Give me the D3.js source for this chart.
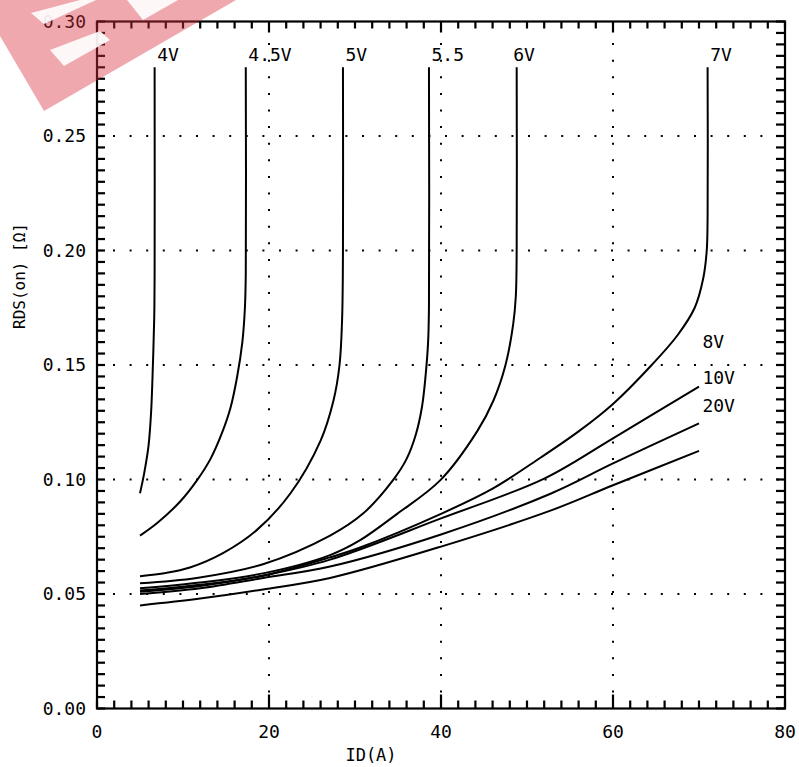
<!DOCTYPE html>
<html>
<head>
<meta charset="utf-8">
<script src="https://cdn.jsdelivr.net/npm/d3@7"></script>
<style>
  body { margin: 0; background: #fff; }
  svg { display: block; }
  text { font-family: "DejaVu Sans Mono", "Liberation Mono", monospace; fill: #000; }
</style>
</head>
<body>
<script>
// ---- data (ID in A, RDS(on) in ohm) ----
const curve4V  = [[5,0.094],[5.5,0.103],[6.0,0.115],[6.3,0.13],[6.5,0.15],[6.65,0.17],[6.7,0.19],[6.7,0.28]];
const curve45V = [[5,0.0755],[7,0.081],[9.7,0.0905],[11.6,0.0995],[13.2,0.109],[14.5,0.12],[15.5,0.131],[16.3,0.145],[16.9,0.16],[17.2,0.175],[17.3,0.19],[17.3,0.28]];
const curve5V  = [[5,0.0578],[8,0.0592],[10.8,0.0616],[14.7,0.068],[18.6,0.078],[22.5,0.094],[26,0.117],[27.5,0.1345],[28.2,0.15],[28.5,0.17],[28.6,0.2],[28.6,0.28]];
const curve55V = [[5,0.0547],[11.6,0.057],[19.3,0.063],[27.1,0.0755],[30.9,0.085],[34.4,0.0996],[36.0,0.109],[37.1,0.12],[37.8,0.132],[38.2,0.145],[38.5,0.16],[38.6,0.175],[38.6,0.28]];
const curve6V  = [[5,0.0525],[12,0.055],[19.3,0.059],[27.1,0.067],[30.6,0.0735],[34.9,0.085],[39.9,0.0996],[44.2,0.121],[46.1,0.1345],[47.5,0.15],[48.4,0.168],[48.7,0.18],[48.8,0.2],[48.8,0.28]];
const curve7V  = [[5,0.0515],[12,0.054],[19.3,0.058],[27.1,0.066],[30.6,0.0703],[40,0.085],[46,0.096],[51.6,0.1096],[56,0.121],[60,0.133],[64.5,0.15],[67.5,0.163],[69.5,0.175],[70.5,0.188],[70.9,0.2],[71,0.215],[71,0.28]];
const curve8V  = [[5,0.051],[12,0.0535],[19.3,0.058],[27.1,0.065],[40,0.083],[52,0.1004],[60,0.118],[70,0.1406]];
const curve10V = [[5,0.050],[12,0.0525],[19.3,0.057],[27.1,0.062],[40,0.076],[52.8,0.0939],[60,0.107],[70,0.1245]];
const curve20V = [[5,0.045],[12,0.048],[19.3,0.052],[27.1,0.057],[40,0.0707],[52.8,0.0865],[60,0.0975],[70,0.1125]];

const curves = [curve4V, curve45V, curve5V, curve55V, curve6V, curve7V, curve8V, curve10V, curve20V];
const curveLabels = ["4V","4.5V","5V","5.5","6V","7V","8V","10V","20V"];
// label anchor positions in data units [ID, R]
const labelPos = [[7.0,0.2795],[17.6,0.2795],[28.9,0.2795],[38.9,0.2795],[48.4,0.2795],[71.3,0.2795],[70.4,0.1545],[70.4,0.1385],[70.4,0.1265]];

const xMajorTicks = [0,20,40,60,80];
const yMajorTicks = [0,0.05,0.10,0.15,0.20,0.25,0.30];
const xGrid = [20,40,60];
const yGrid = [0.05,0.10,0.15,0.20,0.25];
const xLabel = "ID(A)";
const yLabel = "RDS(on) [Ω]";

// ---- layout ----
const W = 799, H = 767;
const x = d3.scaleLinear().domain([0,80]).range([97,785]);
const y = d3.scaleLinear().domain([0,0.30]).range([708.5,21.5]);

const svg = d3.select("body").append("svg").attr("width",W).attr("height",H);

// grid (dotted)
const grid = svg.append("g").attr("stroke","#000").attr("stroke-width",2).attr("stroke-dasharray","2,14.6");
grid.selectAll("line.v").data(xGrid).join("line").attr("class","v")
  .attr("x1",d=>x(d)).attr("x2",d=>x(d)).attr("y1",y(0)-16).attr("y2",y(0.30));
grid.selectAll("line.h").data(yGrid).join("line").attr("class","h")
  .attr("y1",d=>y(d)).attr("y2",d=>y(d)).attr("x1",x(0)+16).attr("x2",x(80));

// minor tick values
const xMinor = d3.range(0,41,1).map(i=>i*2);
const yMinor = d3.range(0,61,1).map(i=>+(i*0.005).toFixed(3));
const isXMajor = v => xGrid.includes(v);

// inward ticks on all four sides
const tk = svg.append("g").attr("fill","#000");
tk.selectAll("rect.tb").data(xMinor).join("rect").attr("class","tb")
  .attr("x",d=>x(d)-1.1).attr("width",2.2)
  .attr("y",d=>y(0)-(isXMajor(d)?14:8)).attr("height",d=>isXMajor(d)?14:8);
tk.selectAll("rect.tt").data(xMinor).join("rect").attr("class","tt")
  .attr("x",d=>x(d)-1.1).attr("width",2.2)
  .attr("y",y(0.30)).attr("height",d=>isXMajor(d)?11:7);
tk.selectAll("rect.tl").data(yMinor).join("rect").attr("class","tl")
  .attr("x",x(0)).attr("width",8)
  .attr("y",d=>y(d)-1.1).attr("height",2.2);
tk.selectAll("rect.tr").data(yMinor).join("rect").attr("class","tr")
  .attr("x",x(80)-9).attr("width",9)
  .attr("y",d=>y(d)-1.1).attr("height",2.2);

// frame
svg.append("rect").attr("x",x(0)).attr("y",y(0.30))
  .attr("width",x(80)-x(0)).attr("height",y(0)-y(0.30))
  .attr("fill","none").attr("stroke","#000").attr("stroke-width",2.2);

// tick labels
svg.append("g").selectAll("text").data(xMajorTicks).join("text")
  .attr("x",d=>x(d)).attr("y",y(0)+29).attr("text-anchor","middle")
  .attr("font-size",18).text(d3.format("d"));
svg.append("g").selectAll("text").data(yMajorTicks).join("text")
  .attr("x",x(0)-11).attr("y",d=>y(d)+6).attr("text-anchor","end")
  .attr("font-size",18).text(d=>d.toFixed(2));

// axis titles
svg.append("text").attr("x",371).attr("y",761).attr("text-anchor","middle")
  .attr("font-size",17).text(xLabel);
svg.append("text").attr("transform","translate(25,276) rotate(-90)").attr("text-anchor","middle")
  .attr("font-size",16).text(yLabel);

// curves
const line = d3.line().x(d=>x(d[0])).y(d=>y(d[1])).curve(d3.curveCatmullRom.alpha(0.5));
svg.append("g").selectAll("path").data(curves).join("path")
  .attr("d",line).attr("fill","none").attr("stroke","#000").attr("stroke-width",2);

// curve labels
svg.append("g").selectAll("text").data(curveLabels).join("text")
  .attr("x",(d,i)=>x(labelPos[i][0])).attr("y",(d,i)=>y(labelPos[i][1])-7)
  .attr("font-size",18).text(d=>d);

// watermark remnant (top-left)
const wm = svg.append("g");
wm.append("polygon").attr("points","0,0 236,0 44,111 0,36")
  .attr("fill","#d8303f").attr("fill-opacity",0.42);
wm.append("polygon").attr("points","31,13 80,0 96,0 44,24")
  .attr("fill","#fff").attr("fill-opacity",0.9);
wm.append("polygon").attr("points","50,50 64,66 110,40 100,31")
  .attr("fill","#fff").attr("fill-opacity",0.9);
wm.append("polygon").attr("points","127,0 143,20 178,0")
  .attr("fill","#fff").attr("fill-opacity",0.9);
</script>
</body>
</html>
